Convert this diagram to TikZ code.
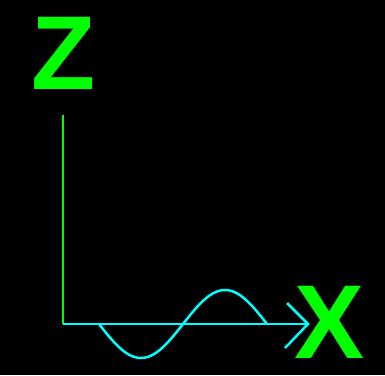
\documentclass[tikz,border=0pt]{standalone}
\usepackage{fontspec}
\setmainfont{Liberation Sans}
\definecolor{lgreen}{HTML}{00FF00}
\definecolor{lcyan}{HTML}{00FFFF}
\begin{document}
\begin{tikzpicture}[x=1pt,y=-1pt,
  letter/.style={text=lgreen,font=\fontsize{105}{105}\selectfont\bfseries,inner sep=0pt,anchor=center},
  zaxis/.style={draw=lgreen,line width=2.5pt},
  xaxis/.style={draw=lcyan,line width=2.5pt},
  wave/.style={draw=lcyan,line width=2.5pt}]
\fill[black] (0,0) rectangle (385,375);
\useasboundingbox (0,0) rectangle (385,375);
\node[letter] (Z) at (63.5,53.5) {Z};
\node[letter] (X) at (330,322.5) {X};
\coordinate (O) at (63,324);
\coordinate (Ztop) at (63,115);
\coordinate (Xtip) at (308,324);
\coordinate (A1) at (287,303);
\coordinate (A2) at (285,348);
\draw[zaxis] (O) -- (Ztop);
\draw[xaxis] (O) -- (Xtip);
\draw[xaxis] (A1) -- (Xtip) -- (A2);
\draw[wave] plot[domain=99:267,samples=80,smooth] (\x,{324+34*sin((\x-99)/168*360)});
\end{tikzpicture}
\end{document}
